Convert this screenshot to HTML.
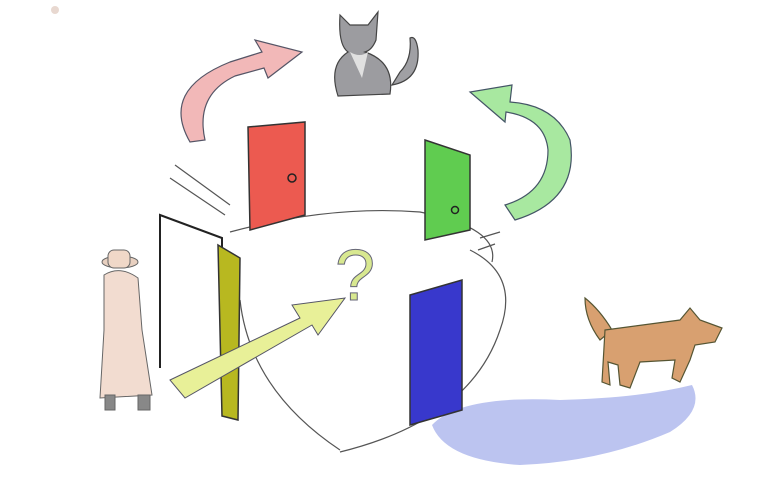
<!DOCTYPE html>
<html><head><meta charset="utf-8"><style>
html,body{margin:0;padding:0;background:#fff;}
svg{display:block;}
</style></head><body>
<svg width="775" height="480" viewBox="0 0 775 480" xmlns="http://www.w3.org/2000/svg">
<circle cx="55" cy="10" r="4" fill="#e8d8d0"/>
<g fill="none" stroke="#555" stroke-width="1.2">
<path d="M230 232 Q330 205 420 212 Q500 228 492 262"/>
<path d="M470 250 Q520 275 500 330 Q470 420 340 452"/>
<path d="M240 300 Q250 390 340 450"/>
<path d="M175 165 L230 205 M170 178 L225 215 M480 238 L500 232 M478 250 L495 244"/>
</g>
<path d="M190 142 Q160 90 230 62 L262 52 L255 40 L302 52 L268 78 L264 68 L235 76 Q195 95 205 140 Z" fill="#f2b8b8" stroke="#556" stroke-width="1.2"/>
<path d="M515 220 Q580 200 570 140 Q555 105 510 102 L512 85 L470 92 L505 122 L506 112 Q545 118 548 150 Q548 192 505 205 Z" fill="#a8e8a0" stroke="#456" stroke-width="1.2"/>
<g stroke="#444" stroke-width="1.2">
<path d="M392 85 Q420 80 418 50 Q416 35 410 38 Q412 60 400 72 Z" fill="#a0a0a4"/>
<path d="M340 15 L350 25 L368 25 L378 12 L376 40 Q372 50 365 52 Q395 62 390 94 L338 96 Q328 65 348 52 Q338 45 340 15 Z" fill="#9c9ca0"/>
<path d="M350 52 Q360 58 368 52 L362 78 Z" fill="#e0e0e0" stroke="none"/>
</g>
<polygon points="248,127 305,122 305,215 250,230" fill="#ec5a50" stroke="#333" stroke-width="1.5"/>
<circle cx="292" cy="178" r="4" fill="none" stroke="#222" stroke-width="1.5"/>
<polygon points="425,140 470,155 470,230 425,240" fill="#60cc50" stroke="#333" stroke-width="1.5"/>
<circle cx="455" cy="210" r="3.5" fill="none" stroke="#222" stroke-width="1.5"/>
<g>
<path d="M160 368 L160 215 L222 238 L222 250" fill="none" stroke="#222" stroke-width="2"/>
<polygon points="218,245 240,258 238,420 222,416" fill="#b8b820" stroke="#333" stroke-width="1.5"/>
</g>
<path d="M170 380 L300 318 L292 305 L345 298 L318 335 L312 325 L185 398 Z" fill="#e8f098" stroke="#556" stroke-width="1"/>
<text x="335" y="300" font-family="Liberation Sans, sans-serif" font-size="72" fill="#d8e890" stroke="#667" stroke-width="1">?</text>
<g stroke="#666" stroke-width="1">
<ellipse cx="120" cy="262" rx="18" ry="6" fill="#e8d0c0"/>
<rect x="108" y="250" width="22" height="18" rx="6" fill="#f0d8c8"/>
<path d="M104 275 Q120 265 138 278 L142 330 L152 395 L100 398 L104 330 Z" fill="#f2dcd0"/>
<rect x="105" y="395" width="10" height="15" fill="#888"/>
<rect x="138" y="395" width="12" height="15" fill="#888"/>
</g>
<path d="M432 425 Q460 395 560 400 Q640 398 692 385 Q705 410 670 432 Q600 462 520 465 Q445 460 432 425 Z" fill="#bcc4f0"/>
<polygon points="410,295 462,280 462,410 410,425" fill="#3838cc" stroke="#333" stroke-width="1.5"/>
<g stroke="#553" stroke-width="1.2">
<path d="M585 298 Q600 310 612 330 L600 340 Q585 320 585 298 Z" fill="#d8a070"/>
<path d="M605 330 L680 320 L690 308 L700 320 L722 328 L715 342 L695 345 L690 360 L680 382 L672 378 L675 360 L640 362 L630 388 L620 385 L618 365 L608 362 L610 385 L602 382 Z" fill="#d8a070"/>
</g>
</svg>
</body></html>
